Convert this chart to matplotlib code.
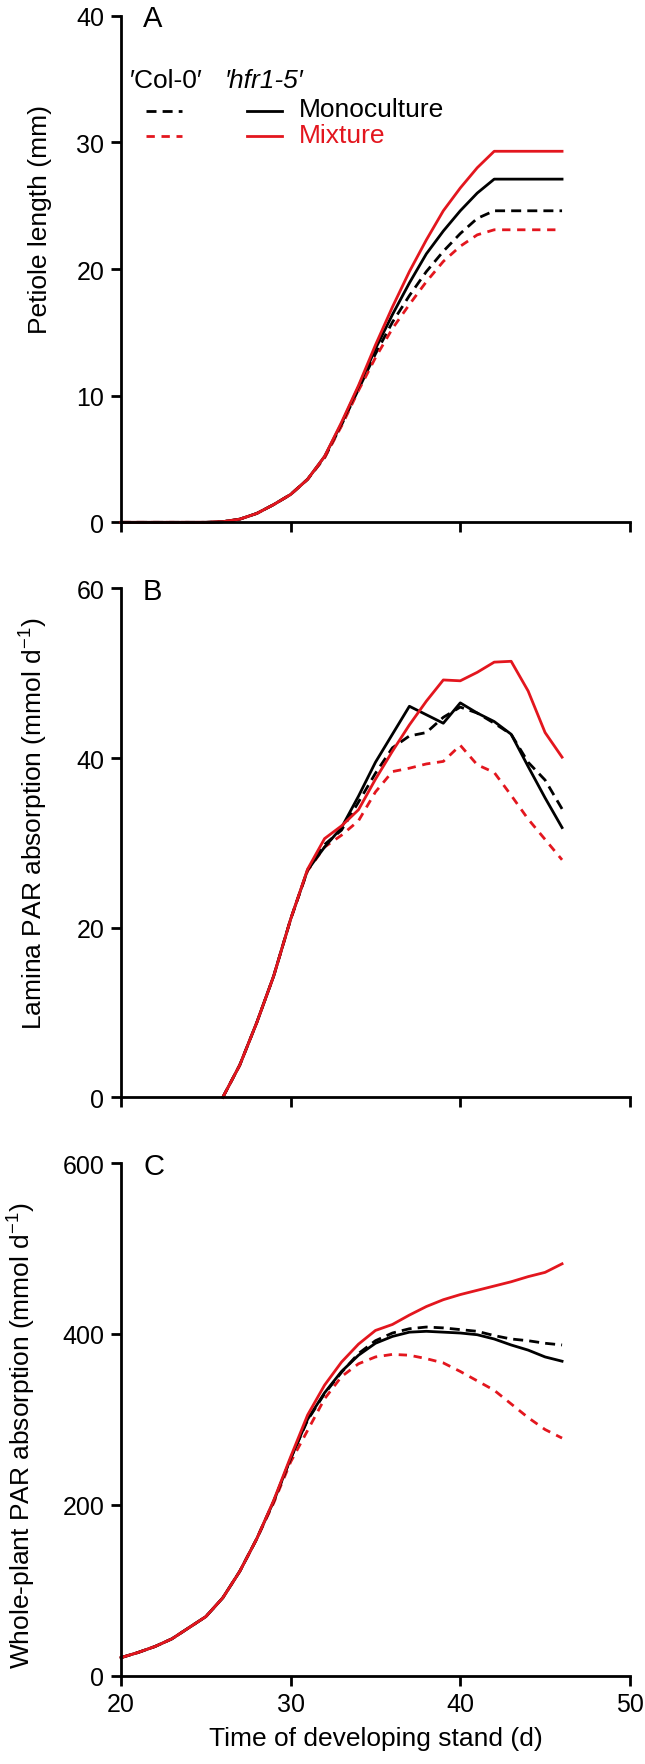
"""Petiole length and PAR absorption of Col-0 and hfr1-5 in a developing stand."""
import matplotlib

matplotlib.use("Agg")
import matplotlib.pyplot as plt

plt.rcParams["font.family"] = ["Liberation Sans", "DejaVu Sans"]
plt.rcParams["mathtext.fontset"] = "custom"
plt.rcParams["mathtext.rm"] = "Liberation Sans"
plt.rcParams["mathtext.it"] = "Liberation Sans:italic"

RED = "#e3161e"

# time of developing stand (d)
days = list(range(20, 47))

# panel A: petiole length (mm)
petiole_col_mono = [0, 0, 0, 0, 0, 0, 0.05, 0.25, 0.7, 1.4, 2.2, 3.4, 5.1, 7.7, 10.5,
                    13.3, 15.8, 17.9, 19.8, 21.4, 22.8, 24.0, 24.6, 24.6, 24.6, 24.6, 24.6]
petiole_col_mix = [0, 0, 0, 0, 0, 0, 0.05, 0.25, 0.7, 1.4, 2.2, 3.4, 5.1, 7.6, 10.4,
                   13.0, 15.3, 17.2, 19.0, 20.6, 21.8, 22.7, 23.1, 23.1, 23.1, 23.1, 23.1]
petiole_hfr_mono = [0, 0, 0, 0, 0, 0, 0.05, 0.25, 0.7, 1.4, 2.2, 3.4, 5.2, 7.8, 10.7,
                    13.7, 16.4, 18.9, 21.2, 23.0, 24.6, 26.0, 27.1, 27.1, 27.1, 27.1, 27.1]
petiole_hfr_mix = [0, 0, 0, 0, 0, 0, 0.05, 0.25, 0.7, 1.4, 2.2, 3.4, 5.2, 7.9, 10.8,
                   14.0, 17.0, 19.8, 22.3, 24.6, 26.4, 28.0, 29.3, 29.3, 29.3, 29.3, 29.3]

# panel B: lamina PAR absorption (mmol d-1), from day 26
lamina_days = list(range(26, 47))
lamina_col_mono = [0, 3.8, 8.8, 14.3, 21.0, 26.8, 29.8, 31.5, 34.8, 38.2, 41.2,
                   42.6, 43.0, 44.8, 46.0, 45.3, 44.1, 42.8, 39.5, 37.4, 34.0]
lamina_col_mix = [0, 3.8, 8.8, 14.3, 21.0, 26.7, 29.5, 30.9, 32.6, 36.0, 38.4,
                  38.8, 39.3, 39.6, 41.5, 39.2, 38.3, 35.6, 32.8, 30.4, 28.0]
lamina_hfr_mono = [0, 3.8, 8.8, 14.3, 21.0, 26.8, 29.5, 31.8, 35.5, 39.5, 42.8,
                   46.1, 45.1, 44.1, 46.5, 45.3, 44.3, 42.8, 39.0, 35.3, 31.8]
lamina_hfr_mix = [0, 3.8, 8.8, 14.3, 21.0, 26.9, 30.5, 32.0, 33.9, 37.5, 40.8,
                  43.9, 46.7, 49.2, 49.1, 50.1, 51.3, 51.4, 47.9, 43.0, 40.1]

# panel C: whole-plant PAR absorption (mmol d-1)
whole_col_mono = [21, 27, 34, 43, 56, 69, 91, 122, 160, 204, 254, 299, 330, 355,
                  377, 392, 401, 406, 408, 407, 405, 403, 398, 394, 392, 389, 387]
whole_col_mix = [21, 27, 34, 43, 56, 69, 91, 122, 160, 202, 250, 287, 324, 350,
                 365, 373, 376, 375, 371, 366, 356, 345, 334, 318, 302, 288, 278]
whole_hfr_mono = [21, 27, 34, 43, 56, 69, 91, 122, 160, 204, 254, 300, 331, 356,
                  375, 389, 397, 402, 403, 402, 401, 399, 394, 387, 381, 373, 368]
whole_hfr_mix = [21, 27, 34, 43, 56, 69, 91, 122, 160, 205, 256, 305, 340, 367,
                 388, 404, 411, 422, 432, 440, 446, 451, 456, 461, 467, 472, 482]

x_ticks = [20, 30, 40, 50]

LW = 2.0
LABEL_SIZE = 19
col_mono_style = dict(color="black", lw=LW, ls=(0, (3.6, 2.2)))
col_mix_style = dict(color=RED, lw=LW, ls=(0, (3.0, 2.4)))
hfr_mono_style = dict(color="black", lw=LW, ls="-")
hfr_mix_style = dict(color=RED, lw=LW, ls="-")


def style_axes(ax, ymax, yticks, ylabel, letter, label_y, label_x, show_xlabels=False):
    ax.set_xlim(20, 50)
    ax.set_ylim(0, ymax)
    ax.spines["top"].set_visible(False)
    ax.spines["right"].set_visible(False)
    for side in ("left", "bottom"):
        ax.spines[side].set_linewidth(2.0)
    ax.set_xticks(x_ticks)
    ax.set_yticks(yticks)
    ax.tick_params(direction="out", length=7, width=2.0, labelsize=18, pad=5)
    if not show_xlabels:
        ax.set_xticklabels([])
    ax.set_ylabel(ylabel, fontsize=LABEL_SIZE)
    ax.yaxis.set_label_coords(label_x, label_y)
    ax.text(21.3, ymax * 0.995, letter, fontsize=21, va="center", ha="left")


fig = plt.figure(figsize=(6.45, 17.65), dpi=100)
ax_a = fig.add_axes([0.1876, 0.7035, 0.789, 0.2870])
ax_b = fig.add_axes([0.1876, 0.3777, 0.789, 0.2884])
ax_c = fig.add_axes([0.1876, 0.0501, 0.789, 0.2904])

# A
ax_a.plot(days, petiole_col_mono, clip_on=False, **col_mono_style)
ax_a.plot(days, petiole_col_mix, clip_on=False, **col_mix_style)
ax_a.plot(days, petiole_hfr_mono, clip_on=False, **hfr_mono_style)
ax_a.plot(days, petiole_hfr_mix, clip_on=False, **hfr_mix_style)
style_axes(ax_a, 40, [0, 10, 20, 30, 40], "Petiole length (mm)", "A", 0.6, -0.135)

# legend drawn by hand, as in the original figure
ax_a.text(20.5, 34.9, "\u2032Col-0\u2032", fontsize=LABEL_SIZE, va="center", ha="left")
ax_a.text(26.1, 34.9, "\u2032hfr1-5\u2032", fontsize=LABEL_SIZE, va="center", ha="left",
          fontstyle="italic")
ax_a.plot([21.5, 23.6], [32.5, 32.5], **col_mono_style)
ax_a.plot([21.5, 23.6], [30.5, 30.5], **col_mix_style)
ax_a.plot([27.4, 29.5], [32.5, 32.5], **hfr_mono_style)
ax_a.plot([27.4, 29.5], [30.5, 30.5], **hfr_mix_style)
ax_a.text(30.5, 32.6, "Monoculture", fontsize=LABEL_SIZE, va="center", ha="left")
ax_a.text(30.5, 30.6, "Mixture", fontsize=LABEL_SIZE, va="center", ha="left", color=RED)

# B
ax_b.plot(lamina_days, lamina_col_mono, clip_on=False, **col_mono_style)
ax_b.plot(lamina_days, lamina_col_mix, clip_on=False, **col_mix_style)
ax_b.plot(lamina_days, lamina_hfr_mono, clip_on=False, **hfr_mono_style)
ax_b.plot(lamina_days, lamina_hfr_mix, clip_on=False, **hfr_mix_style)
style_axes(ax_b, 60, [0, 20, 40, 60],
           r"Lamina PAR absorption (mmol d$^{-1}$)", "B", 0.54, -0.14)

# C
ax_c.plot(days, whole_col_mono, clip_on=False, **col_mono_style)
ax_c.plot(days, whole_col_mix, clip_on=False, **col_mix_style)
ax_c.plot(days, whole_hfr_mono, clip_on=False, **hfr_mono_style)
ax_c.plot(days, whole_hfr_mix, clip_on=False, **hfr_mix_style)
style_axes(ax_c, 600, [0, 200, 400, 600],
           r"Whole-plant PAR absorption (mmol d$^{-1}$)", "C", 0.47, -0.163,
           show_xlabels=True)
ax_c.set_xlabel("Time of developing stand (d)", fontsize=LABEL_SIZE, labelpad=7)

fig.savefig("out.png", dpi=100)
